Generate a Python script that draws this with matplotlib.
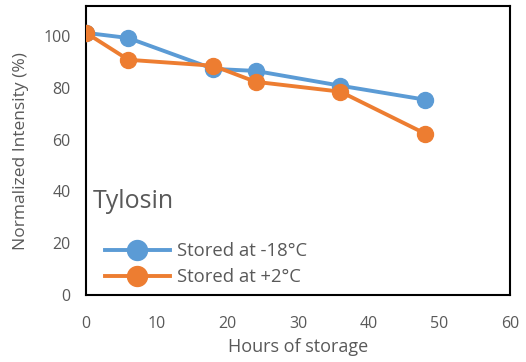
import matplotlib
matplotlib.use("Agg")
from matplotlib import pyplot as plt

hours = [0, 6, 18, 24, 36, 48]
frozen = [101.2, 99.2, 87.3, 86.5, 80.8, 75.4]
chilled = [101.2, 90.8, 88.5, 82.3, 78.5, 62.3]
labels = ["Stored at -18°C", "Stored at +2°C"]

BLUE = "#5B9BD5"
ORANGE = "#ED7D31"
GRAY = "#595959"

plt.rcParams["font.family"] = ["Open Sans", "DejaVu Sans"]

fig = plt.figure(figsize=(5.26, 3.62), dpi=100)
ax = fig.add_axes([0.1635, 0.185, 0.806, 0.798])

ax.plot(hours, frozen, color=BLUE, lw=2.8, marker="o", ms=11.5, label=labels[0], zorder=3)
ax.plot(hours, chilled, color=ORANGE, lw=2.8, marker="o", ms=11.5, label=labels[1], zorder=4)

ax.set_xlim(0, 60)
ax.set_ylim(0, 111.5)
ax.set_xticks(range(0, 61, 10))
ax.set_yticks(range(0, 101, 20))
ax.tick_params(length=0, labelsize=11.5, colors=GRAY)
ax.tick_params(axis="x", pad=15)
ax.tick_params(axis="y", pad=11)
for s in ax.spines.values():
    s.set_color("black")
    s.set_linewidth(1.5)

ax.set_xlabel("Hours of storage", fontsize=13, color=GRAY)
ax.set_ylabel("Normalized Intensity (%)", fontsize=12.5, color=GRAY)
ax.xaxis.set_label_coords(0.5, -0.15)
ax.yaxis.set_label_coords(-0.135, 0.5)

ax.text(0.9, 36, "Tylosin", fontsize=18, color=GRAY, va="center")

leg = ax.legend(loc="lower left", bbox_to_anchor=(0.045, 0.03), frameon=False,
                fontsize=13.3, handlelength=3.5, markerscale=1.25,
                labelcolor=GRAY, handletextpad=0.4, labelspacing=0.45,
                borderpad=0, borderaxespad=0)

fig.savefig("out.png", dpi=100)
